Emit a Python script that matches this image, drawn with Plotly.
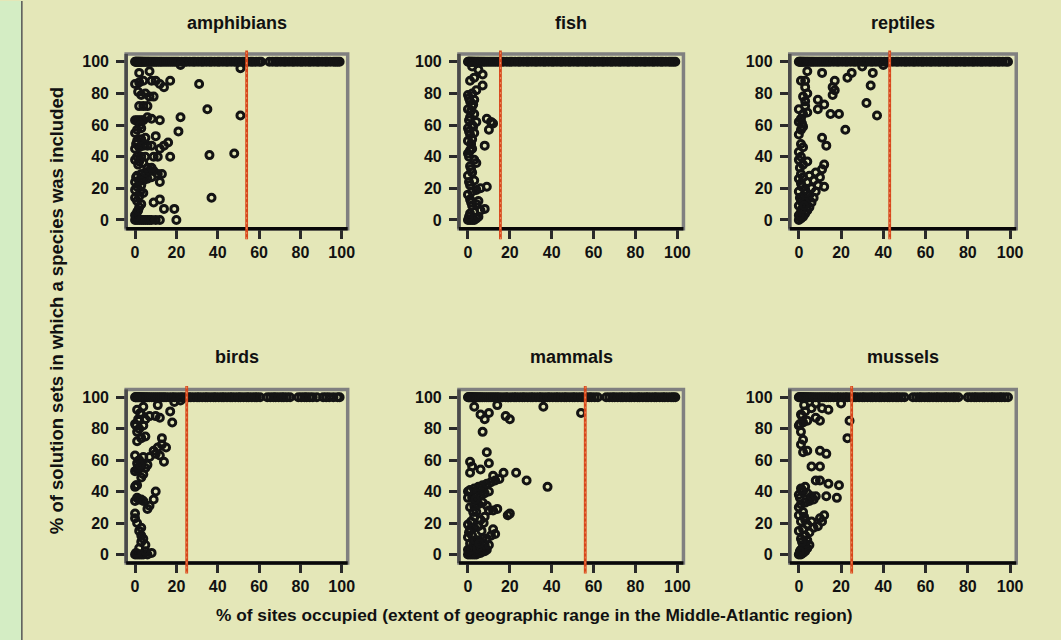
import plotly.graph_objects as go

W, H = 1061, 640
FONT = "Liberation Sans, Arial, Helvetica, sans-serif"

panel_titles = ["amphibians", "fish", "reptiles", "birds", "mammals", "mussels"]
x_ticks = [0, 20, 40, 60, 80, 100]
y_ticks = [0, 20, 40, 60, 80, 100]
cutoffs = [54, 15.5, 43, 25, 56, 25]

# species at 100% of solution sets (x = % of sites occupied)
top_amphibians = [0, 0.3, 0.6, 1, 1.3, 1.7, 2, 2.4, 2.8, 3.2, 3.7, 4.2, 4.8, 5.3, 6, 6.6, 7.3, 8, 8.8, 9.6,
                  10.4, 11.3, 12.2, 13, 14, 15, 16, 17, 18, 19, 20, 21, 22.5, 24, 25, 26.5, 28, 29, 30.5,
                  32, 33, 34.5, 36, 37, 38.5, 40, 41, 42.5, 44, 45, 46.5, 48, 49, 50.5, 52, 53, 54.5, 56,
                  57, 58.5, 60, 61, 65, 66.5, 68, 69, 70.5, 72, 73, 74.5, 76, 77, 78.5, 80, 81, 82.5, 84,
                  85, 86.5, 88, 89, 90.5, 92, 93, 94.5, 96, 97, 98, 99]
top_fish = [0, 0.3, 0.6, 1, 1.4, 1.8, 2.2, 2.7, 3.2, 3.8, 4.4, 5, 5.7, 6.4, 7.2, 8, 9, 10, 11, 12, 13, 14,
            15, 16, 17, 18.5, 20, 21, 22.5, 24, 25, 26.5, 28, 29, 30.5, 32, 33, 34.5, 36, 37, 38.5, 40,
            41, 42.5, 44, 45, 46.5, 48, 49, 50.5, 52, 53, 54.5, 56, 57, 58.5, 60, 61, 62.5, 64, 65, 66.5,
            68, 69, 70.5, 72, 73, 74.5, 76, 77, 78.5, 80, 81, 82.5, 84, 85, 86.5, 88, 89, 90.5, 92, 93,
            94.5, 96, 97, 98, 99]
top_reptiles = [0, 0.4, 0.8, 1.2, 1.7, 2.2, 2.8, 3.4, 4, 4.7, 5.4, 6.2, 7, 8, 9, 10, 11, 12, 13, 14, 15,
                16.5, 18, 19, 20.5, 22, 23, 24.5, 26, 27, 28.5, 30, 31, 32.5, 34, 35, 36.5, 38, 39, 40.5,
                42, 43, 44.5, 46, 47, 48.5, 50, 51, 52.5, 54, 55, 56.5, 58, 59, 60.5, 62, 63, 64.5, 66,
                67, 68.5, 70, 71, 72.5, 74, 75, 76.5, 78, 79, 80.5, 82, 83, 84.5, 86, 87, 88.5, 90, 91,
                92.5, 94, 95, 96.5, 98, 99]
top_birds = [0, 0.3, 0.6, 1, 1.4, 1.8, 2.3, 2.8, 3.4, 4, 4.7, 5.4, 6.2, 7, 8, 9, 10, 11, 12, 13, 14, 15,
             16.5, 18, 19, 20.5, 22, 23, 24.5, 26, 27, 28.5, 30, 31, 32.5, 34, 35, 36.5, 38, 39, 40.5, 42,
             43, 44.5, 46, 47, 48.5, 50, 51, 52.5, 54, 55, 56.5, 58, 59, 60.5, 64, 65.5, 67, 68, 69.5, 71,
             72, 73.5, 75, 79, 80.5, 82, 83, 84.5, 86, 88, 91, 92.5, 94, 96, 98, 99]
top_mammals = [0, 0.3, 0.6, 1, 1.4, 1.8, 2.3, 2.8, 3.4, 4, 4.7, 5.4, 6.2, 7, 8, 9, 10, 11, 12, 13, 14, 15,
               16.5, 18, 19, 20.5, 22, 23, 24.5, 26, 27, 28.5, 30, 31, 32.5, 34, 35, 36.5, 38, 39, 40.5,
               42, 43, 44.5, 46, 47, 48.5, 50, 51, 52.5, 54, 55, 56.5, 58, 59, 60.5, 62, 66, 67.5, 69,
               70, 71.5, 73, 74, 75.5, 77, 78, 79.5, 81, 82, 83.5, 85, 86, 87.5, 89, 90, 91.5, 93, 94,
               95.5, 97, 98, 99]
top_mussels = [0, 0.3, 0.6, 1, 1.4, 1.8, 2.3, 2.8, 3.4, 4, 4.7, 5.4, 6.2, 7, 8, 9, 10, 11, 12, 13, 14, 15,
               16.5, 18, 19, 20.5, 22, 23, 24.5, 26, 27, 28.5, 30, 31, 32.5, 34, 35, 36.5, 38, 39, 40.5,
               42, 43, 44.5, 46, 47, 48.5, 50, 54, 55.5, 57, 58, 59.5, 61, 62, 63.5, 65, 66, 67.5, 69,
               70, 71.5, 73, 74, 75.5, 80, 81.5, 83, 84, 85.5, 87, 88, 89.5, 91, 92, 93.5, 95, 96, 97.5,
               99]

# remaining species (x, y)
amph_x = [0, 1, 2, 3, 4, 5, 6, 7, 8, 10, 12, 20, 0, 1, 2, 3, 1, 0, 2, 4, 0, 1, 3, 0, 2, 4, 6, 8, 1, 3, 5, 7,
          9, 11, 13, 12, 6, 8, 0, 1, 3, 5, 9, 11, 17, 2, 4, 0, 2, 4, 6, 8, 14, 12, 16, 1, 3, 5, 10, 0, 1, 3,
          21, 0, 1, 2, 3, 4, 6, 8, 12, 22, 2, 4, 6, 3, 5, 7, 9, 0, 2, 4, 8, 10, 12, 14, 17, 31, 2, 7, 51, 22,
          35, 51, 36, 48, 37, 14, 19, 9, 12, 0.5, 1.5, 2.5, 0.5, 1.5, 0.5, 2.5, 1.5]
amph_y = [0, 0, 0, 0, 0, 0, 0, 0, 0, 0, 0, 0, 3, 5, 8, 10, 12, 14, 15, 17, 19, 21, 22, 24, 25, 25, 26, 27,
          28, 29, 30, 31, 31, 29, 29, 24, 33, 33, 38, 40, 40, 40, 40, 40, 40, 37, 36, 45, 46, 47, 47, 47,
          47, 45, 49, 50, 51, 52, 53, 55, 57, 58, 56, 63, 63, 63, 63, 63, 65, 64, 63, 65, 72, 72, 72, 79,
          80, 78, 78, 86, 87, 88, 88, 88, 86, 84, 88, 86, 93, 94, 96, 98, 70, 66, 41, 42, 14, 7, 7, 11, 13,
          2, 6, 18, 27, 35, 48, 60, 81]

fish_x = [0, 1, 2, 3, 4, 5, 1, 3, 6, 8, 2, 4, 1, 0, 2, 4, 9, 1, 3, 0, 2, 1, 4, 3, 0, 1, 2, 8, 0, 2, 1, 3,
          10, 0, 2, 4, 11, 12, 9, 1, 3, 0, 2, 1, 3, 0, 2, 4, 7, 1, 3, 7, 5, 2, 6, 5, 0.5, 1.5, 0.5, 1.5,
          0.5, 1.5, 0.5, 2.5, 0.5, 1.5, 2.5, 0.5]
fish_y = [0, 0, 0, 0, 1, 2, 4, 5, 6, 7, 9, 10, 13, 16, 18, 19, 21, 22, 25, 28, 30, 34, 36, 38, 42, 44,
          45, 47, 50, 51, 54, 55, 57, 58, 60, 62, 62, 61, 64, 65, 67, 70, 72, 75, 76, 79, 80, 82, 85, 88,
          90, 92, 95, 97, 20, 12, 2, 11, 24, 32, 40, 48, 56, 59, 63, 69, 73, 77]

rept_x = [0, 1, 2, 0, 3, 1, 4, 2, 5, 0, 3, 6, 1, 4, 7, 2, 5, 8, 0, 3, 6, 9, 1, 4, 7, 10, 2, 5, 8, 11, 12,
          0, 1, 12, 2, 4, 0, 1, 0, 2, 1, 13, 11, 0, 1, 2, 0, 1, 2, 4, 15, 19, 22, 0, 3, 9, 12, 9, 3, 2, 4,
          16, 17, 3, 16, 1, 3, 17, 23, 25, 4, 11, 34, 32, 37, 35, 30, 40, 0.5, 1.5, 2.5, 3.5, 0.5, 1.5,
          2.5, 0.5, 1.5]
rept_y = [0, 1, 2, 3, 4, 5, 6, 7, 8, 9, 10, 11, 12, 13, 14, 15, 16, 18, 18, 19, 20, 22, 23, 24, 25, 27,
          27, 28, 30, 32, 35, 26, 29, 21, 35, 37, 38, 40, 43, 46, 48, 47, 52, 54, 57, 59, 62, 64, 67, 68,
          67, 67, 57, 70, 72, 70, 73, 76, 75, 78, 80, 79, 82, 84, 84, 88, 88, 88, 90, 93, 94, 93, 85, 74,
          66, 93, 97, 98, 3, 7, 12, 17, 14, 21, 9, 33, 61]

bird_x = [0, 1, 2, 3, 4, 6, 8, 5, 2, 5, 3, 4, 3, 2, 3, 1, 0, 0, 6, 7, 9, 10, 0, 1, 2, 3, 4, 0, 1, 3, 4, 0,
          1, 2, 3, 5, 6, 1, 2, 4, 0, 7, 10, 12, 14, 9, 11, 13, 15, 13, 1, 3, 5, 1, 2, 4, 0, 2, 5, 7, 10, 12,
          3, 1, 4, 11, 17, 18, 19, 22, 0.5, 1.5, 2.5, 0.5, 1.5, 2.5, 0.5]
bird_y = [0, 0, 0, 0, 0, 0, 1, 2, 4, 6, 8, 10, 12, 15, 17, 20, 23, 26, 29, 31, 35, 40, 34, 36, 35, 35,
          34, 43, 44, 49, 51, 53, 54, 55, 56, 55, 57, 58, 60, 62, 63, 62, 64, 63, 59, 66, 68, 70, 68, 74,
          72, 74, 75, 78, 80, 82, 83, 85, 86, 88, 88, 87, 89, 92, 94, 95, 91, 84, 97, 98, 1, 55, 57, 82,
          86, 90, 44]

mamm_x = [0, 1, 2, 3, 4, 5, 6, 7, 8, 9, 0, 2, 4, 6, 8, 10, 1, 3, 5, 7, 9, 0, 2, 11, 13, 12, 1, 3, 5, 0, 6,
          8, 3, 4, 10, 12, 14, 19, 20, 1, 3, 5, 7, 9, 0, 2, 4, 6, 8, 10, 1, 3, 5, 7, 9, 11, 13, 15, 0, 12,
          17, 23, 28, 38, 1, 2, 6, 10, 1, 9, 7, 8, 10, 6, 18, 20, 3, 14, 36, 54, 0.5, 1.5, 2.5, 3.5, 4.5,
          5.5, 0.5, 1.5, 2.5, 3.5, 6.5, 7.5]
mamm_y = [0, 0, 0, 0, 0, 1, 1, 2, 2, 3, 3, 4, 5, 5, 6, 6, 7, 8, 9, 10, 10, 11, 12, 12, 13, 16, 16, 17,
          18, 19, 22, 24, 24, 27, 28, 28, 29, 25, 26, 30, 31, 32, 33, 31, 36, 36, 37, 38, 39, 40, 41, 42,
          43, 44, 45, 46, 47, 48, 40, 50, 52, 52, 47, 43, 52, 56, 54, 58, 59, 65, 78, 86, 90, 89, 88, 86,
          94, 95, 94, 90, 2, 3, 6, 9, 4, 7, 14, 21, 27, 35, 15, 20]

muss_x = [0, 1, 2, 3, 1, 4, 2, 5, 3, 4, 1, 3, 5, 0, 2, 7, 9, 4, 1, 3, 6, 10, 12, 11, 0, 2, 0, 1, 3, 5, 7,
          0, 2, 4, 6, 8, 13, 18, 1, 3, 8, 10, 14, 19, 6, 10, 2, 4, 10, 13, 1, 2, 23, 1, 0, 2, 4, 8, 10, 24,
          1, 3, 6, 11, 14, 8, 20, 0.5, 1.5, 2.5, 0.5, 1.5, 0.5, 1.5, 2.5]
muss_y = [0, 0, 1, 2, 3, 4, 5, 6, 7, 9, 10, 12, 14, 15, 16, 17, 18, 19, 21, 22, 21, 23, 25, 21, 25, 27,
          30, 32, 33, 34, 35, 38, 40, 39, 37, 37, 37, 36, 42, 43, 47, 47, 45, 44, 56, 56, 65, 66, 66, 64,
          70, 73, 74, 78, 82, 84, 85, 87, 85, 85, 89, 91, 93, 93, 92, 96, 96, 2, 8, 24, 36, 41, 83, 88, 95]

tops = [top_amphibians, top_fish, top_reptiles, top_birds, top_mammals, top_mussels]
rest_x = [amph_x, fish_x, rept_x, bird_x, mamm_x, muss_x]
rest_y = [amph_y, fish_y, rept_y, bird_y, mamm_y, muss_y]

BG = "#e4e7b8"
STRIP = "#d4edc4"

# panel frames in pixels (left, right, top, bottom)
cols = [(127, 350), (462, 688), (795, 1023)]
rows = [(53, 228), (389, 563)]

fig = go.Figure()
layout = {}
shapes = []
annotations = []

for i in range(6):
    r, c = divmod(i, 3)
    n = "" if i == 0 else str(i + 1)
    xa, ya = "x" + n, "y" + n
    xd = [cols[c][0] / W, cols[c][1] / W]
    yd = [1 - rows[r][1] / H, 1 - rows[r][0] / H]
    tx = tops[i] + rest_x[i]
    ty = [100] * len(tops[i]) + rest_y[i]
    fig.add_trace(go.Scatter(
        x=tx, y=ty, mode="markers", xaxis=xa, yaxis=ya, showlegend=False,
        marker=dict(symbol="circle-open", size=7, color="#141414", line=dict(width=3, color="#141414")),
        hoverinfo="x+y"))
    tickfont = dict(family=FONT, size=16, color="#111111", weight="bold")
    layout["xaxis" + n] = dict(domain=xd, anchor=ya, range=[-4.3, 102.9], tickvals=x_ticks,
                               ticks="outside", ticklen=9, tickwidth=3, tickcolor="#2a2a2a",
                               showgrid=False, zeroline=False, showline=False,
                               tickfont=tickfont, ticklabelstandoff=0, fixedrange=True)
    layout["yaxis" + n] = dict(domain=yd, anchor=xa, range=[-5.5, 105], tickvals=y_ticks,
                               ticks="outside", ticklen=9, tickwidth=3, tickcolor="#2a2a2a",
                               showgrid=False, zeroline=False, showline=False,
                               tickfont=tickfont, ticklabelstandoff=4, fixedrange=True)
    # frame: grey box, darker left and bottom edges
    shapes.append(dict(type="rect", xref=xa + " domain", yref=ya + " domain", x0=0, x1=1, y0=0, y1=1,
                       line=dict(color="#808080", width=3.5), layer="above"))
    shapes.append(dict(type="line", xref=xa + " domain", yref=ya + " domain", x0=0, x1=0, y0=0, y1=1,
                       line=dict(color="#4a4a4a", width=3.5), layer="above"))
    shapes.append(dict(type="line", xref=xa + " domain", yref=ya + " domain", x0=0, x1=1, y0=0, y1=0,
                       line=dict(color="#080808", width=3.5), layer="above"))
    # cutoff line
    shapes.append(dict(type="line", xref=xa, yref=ya + " domain", x0=cutoffs[i], x1=cutoffs[i],
                       y0=-0.06, y1=1.02, line=dict(color="#d8461a", width=2.8), layer="above"))
    shapes.append(dict(type="line", xref=xa, yref=ya + " domain", x0=cutoffs[i], x1=cutoffs[i],
                       y0=-0.06, y1=1.02, line=dict(color="#f0a070", width=0.8, dash="2px,3px"),
                       layer="above"))
    annotations.append(dict(text=panel_titles[i], xref="paper", yref="paper",
                            x=(xd[0] + xd[1]) / 2, y=1 - (22 if r == 0 else 357) / H,
                            showarrow=False, xanchor="center", yanchor="middle",
                            font=dict(family=FONT, size=18, color="#111111", weight="bold")))

# left strip
shapes.insert(0, dict(type="rect", xref="paper", yref="paper", x0=0, x1=22 / W, y0=0, y1=1,
                      fillcolor=STRIP, line=dict(width=0), layer="below"))
shapes.insert(1, dict(type="line", xref="paper", yref="paper", x0=22 / W, x1=22 / W, y0=0, y1=1,
                      line=dict(color="#555555", width=1.5), layer="below"))

annotations.append(dict(text="% of solution sets in which a species was included", xref="paper",
                        yref="paper", x=57 / W, y=1 - 310 / H, textangle=-90, showarrow=False,
                        xanchor="center", yanchor="middle",
                        font=dict(family=FONT, size=18.5, color="#111111", weight="bold")))
annotations.append(dict(text="% of sites occupied (extent of geographic range in the Middle-Atlantic region)",
                        xref="paper", yref="paper", x=538 / W, y=1 - 615 / H, showarrow=False,
                        xanchor="center", yanchor="middle",
                        font=dict(family=FONT, size=17.3, color="#111111", weight="bold")))

fig.update_layout(width=W, height=H, margin=dict(l=0, r=0, t=0, b=0),
                  paper_bgcolor=BG, plot_bgcolor=BG, shapes=shapes, annotations=annotations,
                  **layout)
fig.write_html("out.html", config={"displayModeBar": False},
               post_script="document.body.style.margin='0';")
